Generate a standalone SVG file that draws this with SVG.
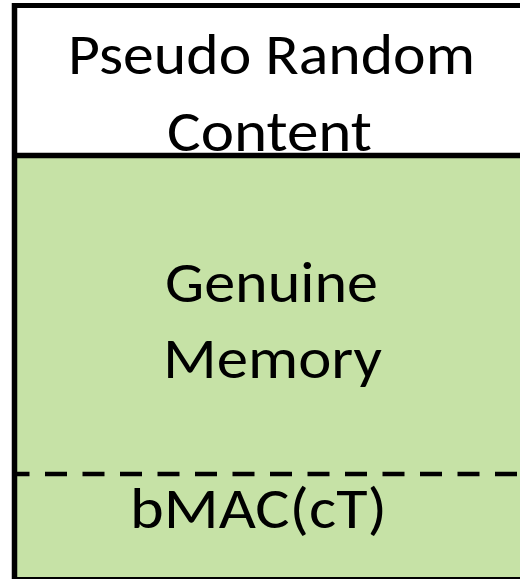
<svg xmlns="http://www.w3.org/2000/svg" width="520" height="579" viewBox="0 0 520 579">
  <style>
    .lbl { font-family: Carlito, Lato, "Noto Sans", sans-serif; font-size: 58px; fill: #000; text-anchor: middle; }
    .edge { stroke: #000; stroke-width: 5.5; fill: none; }
  </style>
  <rect width="520" height="579" fill="#ffffff"/>

  <!-- upper block: pseudo random content -->
  <g id="pseudo-random">
    <rect x="14.5" y="5.5" width="520" height="150" fill="#ffffff"/>
    <text class="lbl" x="271.5" y="74" textLength="407" lengthAdjust="spacingAndGlyphs">Pseudo Random</text>
    <text class="lbl" x="269.5" y="151" textLength="205" lengthAdjust="spacingAndGlyphs">Content</text>
  </g>

  <!-- lower block: genuine memory with bMAC tail -->
  <g id="genuine-memory">
    <rect x="14.5" y="155.5" width="520" height="422.5" fill="#c6e2a6"/>
    <text class="lbl" x="271.5" y="302" textLength="213" lengthAdjust="spacingAndGlyphs">Genuine</text>
    <text class="lbl" x="272.5" y="378" textLength="219" lengthAdjust="spacingAndGlyphs">Memory</text>
  </g>

  <g id="bmac">
    <text class="lbl" x="258.5" y="528" textLength="257" lengthAdjust="spacingAndGlyphs">bMAC(cT)</text>
  </g>

  <!-- outlines and separators -->
  <g id="lines">
    <line class="edge" x1="12" y1="5.5" x2="520" y2="5.5" style="stroke-width:5"/>
    <line class="edge" x1="14.5" y1="3" x2="14.5" y2="579"/>
    <line class="edge" x1="12" y1="155.5" x2="520" y2="155.5"/>
    <line class="edge" x1="12" y1="578.5" x2="520" y2="578.5" style="stroke-width:3"/>
    <line class="edge" x1="14.5" y1="474" x2="520" y2="474" style="stroke-width:4.5;stroke-dasharray:22 15.5;stroke-dashoffset:7"/>
  </g>
</svg>
